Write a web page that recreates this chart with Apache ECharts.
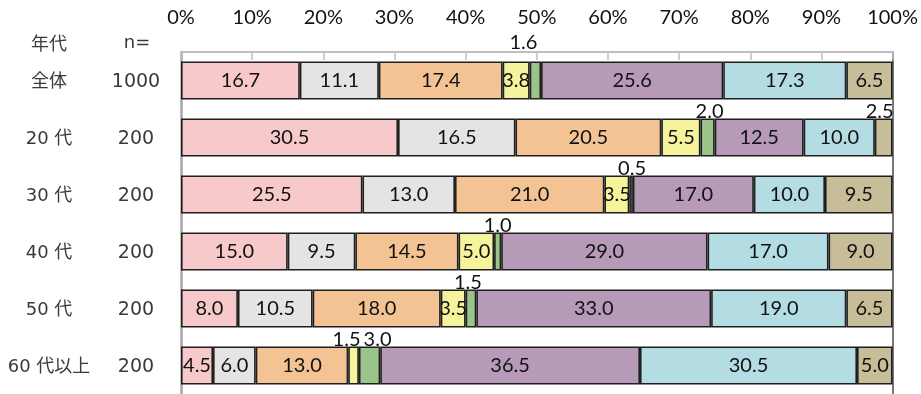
<!DOCTYPE html>
<html>
<head>
<meta charset="utf-8">
<script src="https://cdn.jsdelivr.net/npm/echarts@6/dist/echarts.min.js"></script>
<style>
  html, body { margin: 0; padding: 0; background: #ffffff; }
  #chart { width: 921px; height: 394px; }
</style>
</head>
<body>
<div id="chart"></div>
<script>
// Age groups (rows) and sample sizes
const ageGroups = ['全体', '20 代', '30 代', '40 代', '50 代', '60 代以上'];
const sampleSizes = [1000, 200, 200, 200, 200, 200];

// Answer shares (%) per response option, one value per age group
const share1 = [16.7, 30.5, 25.5, 15.0, 8.0, 4.5];
const share2 = [11.1, 16.5, 13.0, 9.5, 10.5, 6.0];
const share3 = [17.4, 20.5, 21.0, 14.5, 18.0, 13.0];
const share4 = [3.8, 5.5, 3.5, 5.0, 3.5, 1.5];
const share5 = [1.6, 2.0, 0.5, 1.0, 1.5, 3.0];
const share6 = [25.6, 12.5, 17.0, 29.0, 33.0, 36.5];
const share7 = [17.3, 10.0, 10.0, 17.0, 19.0, 30.5];
const share8 = [6.5, 2.5, 9.5, 9.0, 6.5, 5.0];

// Axis tick labels
const pctTicks = ['0%', '10%', '20%', '30%', '40%', '50%', '60%', '70%', '80%', '90%', '100%'];

const allShares = [share1, share2, share3, share4, share5, share6, share7, share8];
const fills = ['#F8C9CA', '#E4E4E4', '#F3C393', '#F5F39B', '#9BC48B', '#B79AB8', '#B4DCE3', '#C8BD99'];

// Segments too narrow for an inside label: label sits above the bar
const aboveLabels = [
  { s: 4, r: 0, dx: -12, dist: 9 },
  { s: 4, r: 1, dx: 2, dist: -3 },
  { s: 7, r: 1, dx: -4, dist: -3 },
  { s: 4, r: 2, dx: 1, dist: -3 },
  { s: 4, r: 3, dx: 0, dist: -3 },
  { s: 4, r: 4, dx: -3, dist: -3 },
  { s: 3, r: 5, dx: -7, dist: -3 },
  { s: 4, r: 5, dx: 8, dist: -3 }
];

const labelFont = { fontFamily: 'Lato', fontSize: 20, color: '#111111' };

const series = allShares.map((vals, si) => ({
  type: 'bar',
  stack: 'total',
  barWidth: 38,
  itemStyle: { color: fills[si], borderColor: '#1f1f1f', borderWidth: 1.6 },
  label: Object.assign({
    show: true,
    position: 'inside',
    formatter: p => p.value.toFixed(1)
  }, labelFont),
  data: vals.map((v, ri) => {
    const a = aboveLabels.find(o => o.s === si && o.r === ri);
    if (!a) return v;
    return {
      value: v,
      label: { position: 'top', distance: a.dist, offset: [a.dx, 0] }
    };
  })
}));

const chart = echarts.init(document.getElementById('chart'), null, { renderer: 'canvas' });
chart.setOption({
  animation: false,
  backgroundColor: '#ffffff',
  grid: { left: 181, top: 52, width: 715, height: 344 },
  xAxis: {
    type: 'value',
    position: 'top',
    min: 0,
    max: 100,
    interval: 10,
    axisLine: { show: true, lineStyle: { color: '#bfbfbf', width: 2 } },
    axisTick: { show: true, inside: true, length: 8, lineStyle: { color: '#bfbfbf', width: 1.5 } },
    splitLine: { show: false },
    axisLabel: {
      margin: 24,
      formatter: (v) => pctTicks[Math.round(v / 10)],
      fontFamily: 'Lato',
      fontSize: 20,
      color: '#111111'
    }
  },
  yAxis: [
    {
      type: 'category',
      inverse: true,
      data: ageGroups,
      axisLine: { show: true, lineStyle: { color: '#a6a6a6', width: 2.5 } },
      axisTick: { show: false },
      axisLabel: {
        margin: 7,
        formatter: (v, i) => '{a|' + v + '}{b|' + sampleSizes[i] + '}',
        rich: {
          a: { width: 98, align: 'center', fontFamily: 'DejaVu Sans, Noto Sans CJK JP', fontSize: 18, color: '#3a3a3a', padding: [3, 0, 0, 0] },
          b: { width: 76, align: 'center', fontFamily: 'DejaVu Sans, Noto Sans CJK JP', fontSize: 19, color: '#3a3a3a', padding: [3, 0, 0, 0] }
        }
      }
    },
    {
      type: 'category',
      inverse: true,
      position: 'right',
      data: ageGroups,
      axisLine: { show: true, lineStyle: { color: '#4a4a4a', width: 1.5 } },
      axisTick: { show: false },
      axisLabel: { show: false }
    }
  ],
  graphic: [
    { type: 'text', x: 49, y: 43, style: { text: '年代', align: 'center', verticalAlign: 'middle', fontFamily: 'Noto Sans CJK JP', fontSize: 18, fill: '#3a3a3a' } },
    { type: 'text', x: 137, y: 43, style: { text: 'n=', align: 'center', verticalAlign: 'middle', fontFamily: 'DejaVu Sans', fontSize: 18, fill: '#3a3a3a' } }
  ],
  series: series
});
</script>
</body>
</html>
